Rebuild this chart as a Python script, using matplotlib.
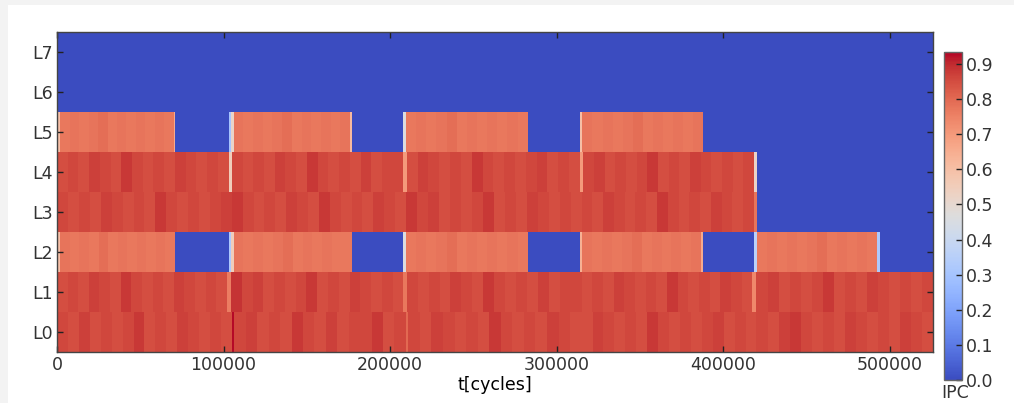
import numpy as np
import matplotlib
matplotlib.use("Agg")
import matplotlib.pyplot as plt
from matplotlib.patches import Rectangle

# IPC per core over time, as (start_cycle, end_cycle, samples) segments.
# Samples inside a segment are spread evenly across it.
T_END = 526000
IPC_MAX = 0.934

L0 = [
    (0, 105000, [0.86, 0.85, 0.87, 0.85, 0.86, 0.85, 0.86, 0.88, 0.85, 0.86, 0.85, 0.87, 0.86, 0.85, 0.86, 0.85]),
    (105000, 106500, [0.93]),
    (106500, 209500, [0.86, 0.87, 0.85, 0.86, 0.85, 0.88, 0.86, 0.85, 0.87, 0.85, 0.86, 0.86, 0.88, 0.85, 0.86]),
    (209500, 211000, [0.80]),
    (211000, 315000, [0.86, 0.85, 0.87, 0.86, 0.85, 0.86, 0.85, 0.88, 0.86, 0.85, 0.86, 0.85, 0.87, 0.86, 0.85]),
    (315000, 420000, [0.85, 0.87, 0.86, 0.85, 0.86, 0.85, 0.88, 0.86, 0.85, 0.86, 0.85, 0.86, 0.87, 0.85, 0.86, 0.85]),
    (420000, T_END, [0.86, 0.85, 0.87, 0.88, 0.86, 0.85, 0.86, 0.85, 0.87, 0.86, 0.85, 0.86, 0.85, 0.87, 0.86, 0.85]),
]
L1 = [
    (0, 102000, [0.85, 0.86, 0.85, 0.87, 0.86, 0.85, 0.88, 0.86, 0.85, 0.86, 0.85, 0.87, 0.86, 0.85, 0.86, 0.85]),
    (102000, 104500, [0.76]),
    (104500, 208000, [0.89, 0.86, 0.87, 0.85, 0.86, 0.85, 0.86, 0.88, 0.85, 0.86, 0.85, 0.87, 0.86, 0.85, 0.86, 0.85]),
    (208000, 210000, [0.77]),
    (210000, 315000, [0.86, 0.85, 0.86, 0.85, 0.87, 0.86, 0.85, 0.88, 0.86, 0.85, 0.86, 0.85, 0.87, 0.85, 0.86, 0.86]),
    (315000, 417500, [0.85, 0.86, 0.85, 0.87, 0.86, 0.85, 0.86, 0.85, 0.88, 0.86, 0.85, 0.86, 0.85, 0.87, 0.86, 0.85]),
    (417500, 420000, [0.74]),
    (420000, T_END, [0.86, 0.87, 0.85, 0.86, 0.85, 0.86, 0.88, 0.85, 0.86, 0.85, 0.87, 0.86, 0.85, 0.86, 0.85, 0.86]),
]
L2 = [
    (0, 2000, [0.60]),
    (2000, 70800, [0.78, 0.77, 0.78, 0.77, 0.79, 0.77, 0.78, 0.77, 0.78, 0.77, 0.78, 0.77]),
    (70800, 103000, [0.0]),
    (103000, 104500, [0.32]),
    (104500, 106000, [0.55]),
    (106000, 177000, [0.78, 0.77, 0.78, 0.77, 0.78, 0.79, 0.77, 0.78, 0.77, 0.78, 0.77, 0.77]),
    (177000, 207500, [0.0]),
    (207500, 209500, [0.46]),
    (209500, 282700, [0.77, 0.78, 0.77, 0.78, 0.79, 0.77, 0.78, 0.77, 0.78, 0.77, 0.78, 0.77]),
    (282700, 314000, [0.0]),
    (314000, 315500, [0.64]),
    (315500, 386800, [0.78, 0.77, 0.78, 0.77, 0.78, 0.79, 0.77, 0.78, 0.77, 0.78, 0.77, 0.78]),
    (386800, 387800, [0.66]),
    (387800, 418500, [0.0]),
    (418500, 420500, [0.36]),
    (420500, 492200, [0.77, 0.78, 0.77, 0.78, 0.77, 0.78, 0.79, 0.77, 0.78, 0.77, 0.78, 0.77]),
    (492200, 494000, [0.32]),
    (494000, T_END, [0.0]),
]
L3 = [
    (0, 105000, [0.86, 0.85, 0.86, 0.85, 0.87, 0.86, 0.85, 0.86, 0.85, 0.88, 0.86, 0.85, 0.86, 0.85, 0.86, 0.87]),
    (105000, 209500, [0.88, 0.86, 0.85, 0.86, 0.85, 0.87, 0.86, 0.85, 0.88, 0.86, 0.85, 0.86, 0.85, 0.87, 0.86, 0.85]),
    (209500, 315000, [0.88, 0.86, 0.87, 0.85, 0.86, 0.85, 0.86, 0.88, 0.85, 0.86, 0.85, 0.87, 0.86, 0.85, 0.86, 0.85]),
    (315000, 418500, [0.86, 0.85, 0.87, 0.86, 0.85, 0.86, 0.85, 0.88, 0.86, 0.85, 0.86, 0.85, 0.87, 0.86, 0.85, 0.86]),
    (418500, 420500, [0.78]),
    (420500, T_END, [0.0]),
]
L4 = [
    (0, 103000, [0.85, 0.86, 0.85, 0.87, 0.86, 0.85, 0.88, 0.86, 0.85, 0.86, 0.85, 0.87, 0.86, 0.85, 0.86, 0.85]),
    (103000, 105000, [0.55]),
    (105000, 208000, [0.86, 0.85, 0.86, 0.85, 0.87, 0.86, 0.85, 0.88, 0.86, 0.85, 0.86, 0.85, 0.87, 0.85, 0.86, 0.86]),
    (208000, 210000, [0.70]),
    (210000, 314000, [0.85, 0.87, 0.86, 0.85, 0.86, 0.85, 0.88, 0.86, 0.85, 0.86, 0.85, 0.86, 0.87, 0.85, 0.86, 0.85]),
    (314000, 316000, [0.70]),
    (316000, 418500, [0.86, 0.87, 0.85, 0.86, 0.85, 0.86, 0.88, 0.85, 0.86, 0.85, 0.87, 0.86, 0.85, 0.86, 0.85, 0.86]),
    (418500, 420500, [0.52]),
    (420500, T_END, [0.0]),
]
L5 = [
    (0, 2000, [0.60]),
    (2000, 70000, [0.77, 0.78, 0.77, 0.78, 0.79, 0.77, 0.78, 0.77, 0.78, 0.77, 0.78, 0.77]),
    (70000, 70800, [0.66]),
    (70800, 103000, [0.0]),
    (103000, 104500, [0.30]),
    (104500, 106000, [0.52]),
    (106000, 176000, [0.78, 0.77, 0.78, 0.77, 0.78, 0.79, 0.77, 0.78, 0.77, 0.78, 0.77, 0.78]),
    (176000, 177000, [0.62]),
    (177000, 207500, [0.0]),
    (207500, 209500, [0.46]),
    (209500, 282700, [0.77, 0.78, 0.77, 0.78, 0.79, 0.77, 0.78, 0.77, 0.78, 0.77, 0.78, 0.77]),
    (282700, 314000, [0.0]),
    (314000, 315500, [0.60]),
    (315500, 387800, [0.78, 0.77, 0.78, 0.77, 0.78, 0.79, 0.77, 0.78, 0.77, 0.78, 0.77, 0.78]),
    (387800, T_END, [0.0]),
]
L6 = [(0, T_END, [0.0])]
L7 = [(0, T_END, [0.0])]

cores = [L0, L1, L2, L3, L4, L5, L6, L7]
core_labels = ["L0", "L1", "L2", "L3", "L4", "L5", "L6", "L7"]
x_ticks = [0, 100000, 200000, 300000, 400000, 500000]
cbar_ticks = [0.0, 0.1, 0.2, 0.3, 0.4, 0.5, 0.6, 0.7, 0.8, 0.9]

plt.rcParams["font.family"] = "DejaVu Sans"
plt.rcParams["font.size"] = 12.5
plt.rcParams["text.color"] = "#333333"
plt.rcParams["xtick.color"] = "#222222"
plt.rcParams["ytick.color"] = "#222222"
plt.rcParams["xtick.labelcolor"] = "#333333"
plt.rcParams["ytick.labelcolor"] = "#333333"

W, H = 1014, 403
fig = plt.figure(figsize=(W / 100, H / 100), dpi=100, facecolor="#f3f3f3")
fig.patches.append(Rectangle((8 / W, 0), 1 - 8 / W, 398 / H, transform=fig.transFigure,
                             facecolor="white", edgecolor="none", zorder=-10))

ax = fig.add_axes([57 / W, (H - 352) / H, 876 / W, 320 / H])


def step_edges(segments):
    edges, vals = [], []
    for start, end, samples in segments:
        e = np.linspace(start, end, len(samples) + 1)
        edges.extend(e[:-1])
        vals.extend(samples)
    edges.append(segments[-1][1])
    return np.array(edges), np.array(vals)


mesh = None
for row, segments in enumerate(cores):
    edges, vals = step_edges(segments)
    mesh = ax.pcolormesh(edges, [row - 0.5, row + 0.5], vals[None, :], cmap="coolwarm",
                         vmin=0.0, vmax=IPC_MAX, shading="flat",
                         edgecolors="none", linewidth=0, antialiased=False)

ax.set_xlim(0, T_END)
ax.set_ylim(-0.5, len(cores) - 0.5)
ax.set_xticks(x_ticks)
ax.set_xticklabels([str(t) for t in x_ticks])
ax.set_yticks(range(len(cores)))
ax.set_yticklabels(core_labels)
ax.tick_params(direction="in", top=True, right=True, length=4, width=1, pad=3)
ax.set_xlabel("t[cycles]", labelpad=1)
for s in ax.spines.values():
    s.set_color("#444444")
    s.set_linewidth(1.0)

cax = fig.add_axes([944 / W, (H - 380) / H, 18 / W, 328 / H])
cb = fig.colorbar(mesh, cax=cax, ticks=cbar_ticks)
cb.ax.set_yticklabels([f"{t:.1f}" for t in cbar_ticks])
cb.ax.tick_params(direction="in", length=4, width=1, pad=3)
cb.outline.set_edgecolor("#666666")
cb.outline.set_linewidth(1.0)
fig.text(955 / W, (H - 393) / H, "IPC", ha="center", va="center")

fig.savefig("out.png", dpi=100, facecolor=fig.get_facecolor())
